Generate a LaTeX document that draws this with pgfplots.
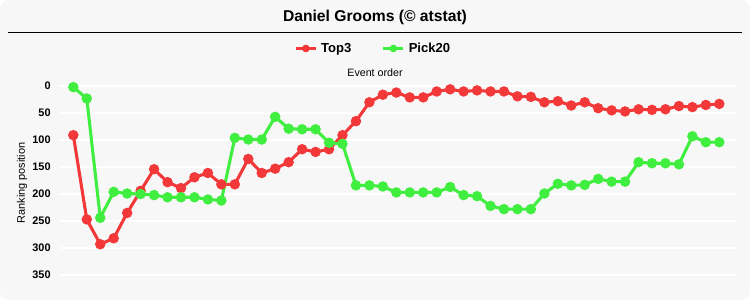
\documentclass[border=0pt]{standalone}
\usepackage{pgfplots}
\pgfplotsset{compat=1.18}
\usepackage{fontspec}
\setmainfont{Liberation Sans}
\definecolor{bg}{HTML}{F7F7F7}
\definecolor{myred}{RGB}{242,56,56}
\definecolor{mygreen}{RGB}{64,238,64}
\begin{document}
\begin{tikzpicture}[x=0.75pt,y=0.75pt]
\useasboundingbox (0,0) rectangle (750,300);
\fill[white] (0,0) rectangle (750,300);
\fill[bg, rounded corners=7pt] (0,0) rectangle (750,300);
\node[font=\bfseries\fontsize{11.75}{14}\selectfont] at (375,283) {Daniel Grooms (© atstat)};
\draw[black, line width=0.9pt] (8,267.5) -- (742,267.5);
\node[font=\fontsize{8}{9}\selectfont] at (375,227) {Event order};
\node[font=\fontsize{8.2}{9}\selectfont, rotate=90] at (22,117) {Ranking position};
\begin{axis}[
  at={(45pt,8.625pt)}, anchor=south west,
  scale only axis, width=507pt, height=157.9pt,
  xmin=-0.99, xmax=49.24,
  ymin=-15, ymax=375, y dir=reverse,
  ytick={0,50,...,350},
  xtick=\empty,
  axis line style={draw=none},
  major tick length=0pt,
  ymajorgrids, grid style={white, line width=0.9pt},
  /pgf/number format/assume math mode=true,
  yticklabel style={font=\bfseries\fontsize{8.2}{9}\selectfont, xshift=-3.5pt},
  clip=false,
  legend columns=2,
  legend style={at={(0.465,1.14)}, anchor=center, draw=none, fill=none,
    font=\bfseries\fontsize{9.8}{11}\selectfont,
    /tikz/every even column/.append style={column sep=20pt},
    /tikz/every odd column/.append style={column sep=0pt},
    nodes={inner xsep=3pt}},
  legend image code/.code={\draw[#1, line width=2pt, mark size=1.8pt, mark repeat=2, mark phase=2] plot coordinates {(0pt,0pt) (7.5pt,0pt) (15pt,0pt)};},
]
\addplot[myred, line width=2.3pt, mark=*, mark size=2.7pt, mark options={solid}] coordinates {
(0,91)(1,247)(2,293)(3,282)(4,235)(5,194)(6,154)(7,178)(8,189)(9,169)
(10,161)(11,182)(12,182)(13,135)(14,161)(15,153)(16,141)(17,117)(18,122)(19,117)
(20,91)(21,65)(22,30)(23,16)(24,12)(25,21)(26,21)(27,10)(28,6)(29,10)
(30,8)(31,10)(32,10)(33,19)(34,20)(35,30)(36,28)(37,36)(38,30)(39,41)
(40,45)(41,47)(42,43)(43,44)(44,43)(45,37)(46,39)(47,35)(48,33)};
\addlegendentry{Top3}
\addplot[mygreen, line width=2.3pt, mark=*, mark size=2.7pt, mark options={solid}] coordinates {
(0,2)(1,23)(2,244)(3,196)(4,199)(5,200)(6,202)(7,206)(8,206)(9,206)
(10,210)(11,212)(12,96)(13,99)(14,99)(15,57)(16,79)(17,80)(18,80)(19,105)
(20,107)(21,184)(22,184)(23,186)(24,197)(25,197)(26,197)(27,197)(28,187)(29,202)
(30,204)(31,222)(32,228)(33,228)(34,228)(35,199)(36,181)(37,184)(38,183)(39,172)
(40,177)(41,177)(42,141)(43,143)(44,143)(45,145)(46,93)(47,104)(48,104)};
\addlegendentry{Pick20}
\end{axis}
\end{tikzpicture}
\end{document}
